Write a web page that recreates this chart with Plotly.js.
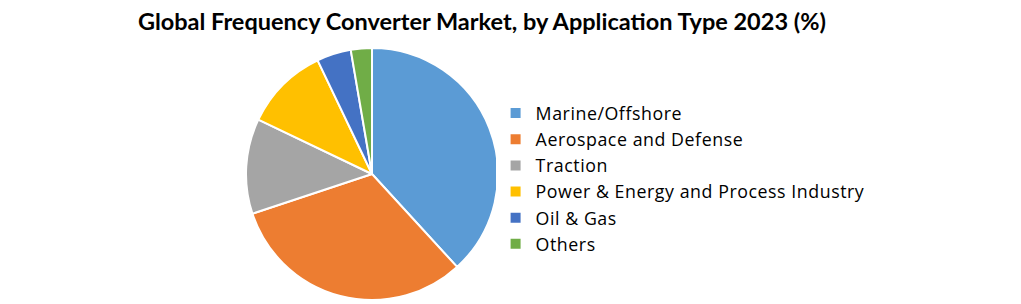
<!DOCTYPE html>
<html><head><meta charset="utf-8">
<script src="https://cdn.plot.ly/plotly-3.0.1.min.js"></script>
<style>html,body{margin:0;padding:0;background:#fff;}#chart{width:1021px;height:304px;}
#chart .legendtext{letter-spacing:0.55px;}
#chart .legend .scrollbox, #chart .legend{clip-path:none !important;}</style>
</head><body><div id="chart"></div>
<script>
const categories = ["Marine/Offshore","Aerospace and Defense","Traction","Power & Energy and Process Industry","Oil & Gas","Others"];
const shares = [38.2, 31.7, 12.2, 10.8, 4.4, 2.7];
const colors = ["#5B9BD5","#ED7D31","#A5A5A5","#FFC000","#4472C4","#70AD47"];

const W = 1021, cx = 372, r = 126;
Plotly.newPlot('chart', [{
  type: 'pie', labels: categories, values: shares, sort: false, direction: 'clockwise', rotation: 0,
  marker: {colors: colors, line: {color: '#ffffff', width: 2}},
  textinfo: 'none', hoverinfo: 'label+percent',
  domain: {x: [(cx - r) / W, (cx + r) / W], y: [0, 1]}
}], {
  width: 1021, height: 304,
  margin: {l: 0, r: 0, t: 48, b: 4},
  paper_bgcolor: '#fff',
  title: {text: '<b>Global Frequency Converter Market, by Application Type 2023 (%)</b>', x: 0.472, xanchor: 'center', y: 0.93, yanchor: 'middle',
    font: {family: 'Lato, Calibri, sans-serif', size: 23.5, color: '#000'}},
  legend: {x: 0.4854, xanchor: 'left', y: 0.482, yanchor: 'middle', font: {family: '"Open Sans", sans-serif', size: 17.8, color: '#000'}, tracegroupgap: 0, itemwidth: 30}
}, {displayModeBar: false, staticPlot: true});
</script></body></html>
